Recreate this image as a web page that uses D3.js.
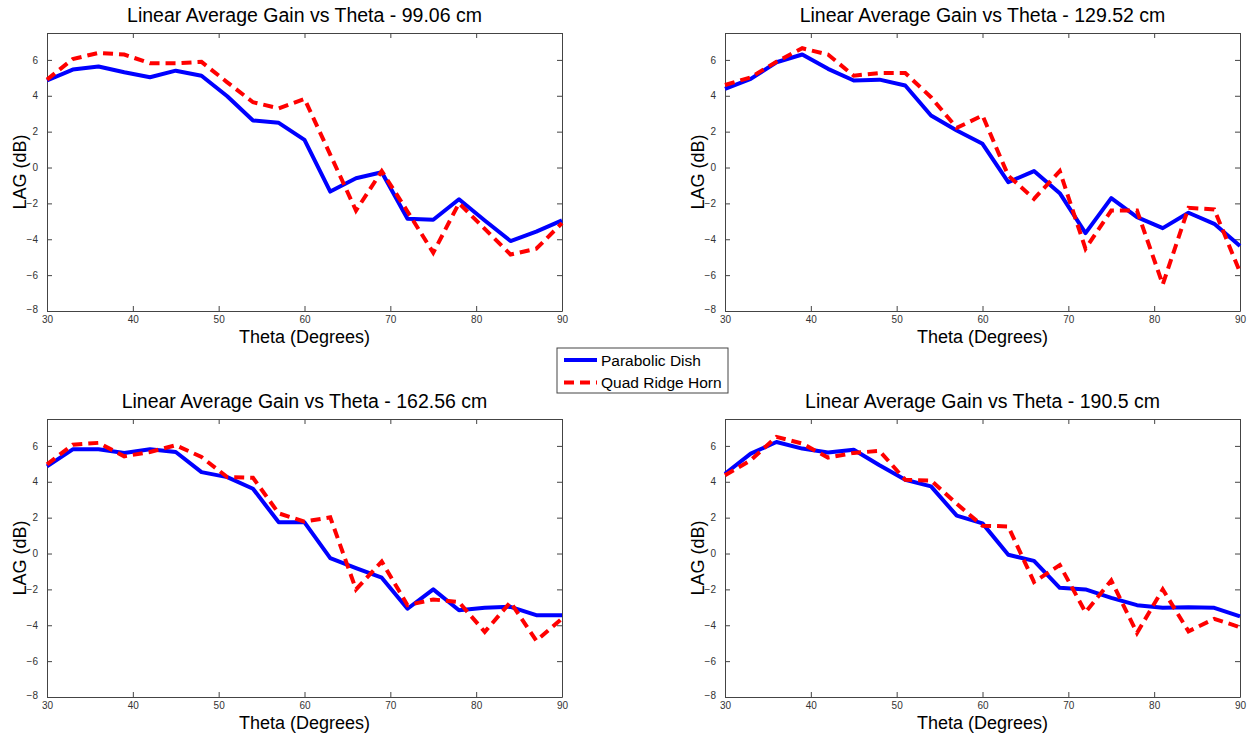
<!DOCTYPE html>
<html>
<head>
<meta charset="utf-8">
<style>
  body { margin:0; background:#fff; }
  svg { font-family: Arial, "Liberation Sans", sans-serif; }
  .tick text { font-size:10px; fill:#333; }
  .title { font-size:19.5px; fill:#000; }
  .lbl { font-size:18px; fill:#000; }
  .dish { fill:none; stroke:#0000ff; stroke-width:4; stroke-linejoin:round; }
  .horn { fill:none; stroke:#ff0000; stroke-width:4; stroke-dasharray:10,6; }
</style>
</head>
<body>
<script src="https://cdn.jsdelivr.net/npm/d3@7"></script>
<script>
var width = 1250, height = 735;

// theta in degrees
var theta = [30,33,36,39,42,45,48,51,54,57,60,63,66,69,72,75,78,81,84,87,90];
var yTicks = [-8,-6,-4,-2,0,2,4,6];
var xTicks = [30,40,50,60,70,80,90];
var seriesNames = ["Parabolic Dish", "Quad Ridge Horn"];

// 99.06 cm
var dish99 = [4.85,5.46,5.63,5.31,5.03,5.4,5.12,3.97,2.62,2.49,1.54,-1.34,-0.6,-0.26,-2.86,-2.91,-1.77,-2.95,-4.1,-3.57,-2.95];
var horn99 = [4.9,6.05,6.39,6.3,5.81,5.81,5.89,4.75,3.64,3.3,3.83,0.72,-2.4,-0.2,-2.45,-4.75,-1.99,-3.42,-4.85,-4.53,-3.1];
// 129.52 cm
var dish129 = [4.38,4.94,5.87,6.3,5.5,4.85,4.9,4.57,2.9,2.06,1.32,-0.82,-0.2,-1.43,-3.66,-1.71,-2.77,-3.38,-2.52,-3.14,-4.38];
var horn129 = [4.6,5.03,5.9,6.65,6.3,5.12,5.27,5.27,3.92,2.21,2.9,-0.45,-1.75,-0.2,-4.53,-2.4,-2.4,-6.52,-2.25,-2.34,-5.83];
// 162.56 cm
var dish162 = [4.86,5.81,5.81,5.61,5.81,5.66,4.54,4.26,3.61,1.74,1.74,-0.26,-0.82,-1.35,-3.08,-2.0,-3.16,-3.03,-2.97,-3.44,-3.44];
var horn162 = [4.97,6.07,6.17,5.42,5.66,6.04,5.38,4.26,4.22,2.24,1.78,2.02,-2.0,-0.45,-2.88,-2.56,-2.71,-4.37,-2.71,-4.86,-3.63];
// 190.5 cm
var dish190 = [4.45,5.57,6.22,5.85,5.63,5.79,4.92,4.11,3.74,2.11,1.68,-0.07,-0.41,-1.91,-2.0,-2.47,-2.88,-3.03,-2.99,-3.03,-3.5];
var horn190 = [4.36,5.2,6.5,6.13,5.35,5.61,5.72,4.11,4.07,2.77,1.55,1.51,-1.59,-0.64,-3.27,-1.5,-4.43,-2.0,-4.34,-3.64,-4.11];

var panels = [
  {title:"Linear Average Gain vs Theta - 99.06 cm", xlab:"Theta (Degrees)", dish:dish99, horn:horn99, x:47, y:33},
  {title:"Linear Average Gain vs Theta - 129.52 cm", xlab:"Theta  (Degrees)", dish:dish129, horn:horn129, x:725, y:33},
  {title:"Linear Average Gain vs Theta - 162.56 cm", xlab:"Theta  (Degrees)", dish:dish162, horn:horn162, x:47, y:419},
  {title:"Linear Average Gain vs Theta - 190.5 cm", xlab:"Theta  (Degrees)", dish:dish190, horn:horn190, x:725, y:419}
];
var pw = 515, ph = 278;

var svg = d3.select("body").append("svg")
    .attr("width", width)
    .attr("height", height);

panels.forEach(function(p){
    var g = svg.append("g").attr("transform", "translate(" + p.x + "," + p.y + ")");
    var x = d3.scaleLinear().domain([30,90]).range([0,pw]);
    var y = d3.scaleLinear().domain([-8,7.5]).range([ph,0]);

    // axes with inward ticks
    var bottom = g.append("g").attr("transform","translate(0," + ph + ")")
        .call(d3.axisBottom(x).tickValues(xTicks).tickSizeInner(-5).tickSizeOuter(0).tickPadding(10));
    bottom.selectAll(".tick text").attr("y", 5);
    var top = g.append("g")
        .call(d3.axisTop(x).tickValues(xTicks).tickSizeInner(-5).tickSizeOuter(0).tickFormat(""));
    var left = g.append("g")
        .call(d3.axisLeft(y).tickValues(yTicks).tickSizeInner(-5).tickSizeOuter(0).tickPadding(9));
    var right = g.append("g").attr("transform","translate(" + pw + ",0)")
        .call(d3.axisRight(y).tickValues(yTicks).tickSizeInner(-5).tickSizeOuter(0).tickFormat(""));
    [bottom, top, left, right].forEach(function(a){
        a.select(".domain").attr("stroke","#444");
        a.selectAll(".tick line").attr("stroke","#444");
    });
    // MATLAB-style -8 label sits a bit higher
    left.selectAll(".tick text").filter(function(d){ return d === -8; }).attr("dy","0.1em");

    var line = d3.line().x(function(d,i){ return x(theta[i]); }).y(function(d){ return y(d); });

    g.append("path").datum(p.dish).attr("class","dish").attr("d", line);
    g.append("path").datum(p.horn).attr("class","horn").attr("d", line);

    g.append("text").attr("class","title")
        .attr("x", pw/2).attr("y", -11)
        .attr("text-anchor","middle").text(p.title);
    g.append("text").attr("class","lbl")
        .attr("x", pw/2).attr("y", ph + 32)
        .attr("text-anchor","middle").text(p.xlab);
    g.append("text").attr("class","lbl")
        .attr("transform","translate(-21," + (ph/2) + ") rotate(-90)")
        .attr("text-anchor","middle").text("LAG (dB)");
});

// legend
var lg = svg.append("g").attr("transform","translate(557,348)");
lg.append("rect").attr("width",171).attr("height",45)
    .attr("fill","#fff").attr("stroke","#444").attr("stroke-width",1);
seriesNames.forEach(function(name,i){
    var yy = 12 + i*22.5;
    lg.append("line").attr("x1",7).attr("x2",40).attr("y1",yy).attr("y2",yy)
        .attr("class", i === 0 ? "dish" : "horn");
    lg.append("text").attr("x",44).attr("y",yy+5.5)
        .attr("font-size","15.5px").text(name);
});
</script>
</body>
</html>
